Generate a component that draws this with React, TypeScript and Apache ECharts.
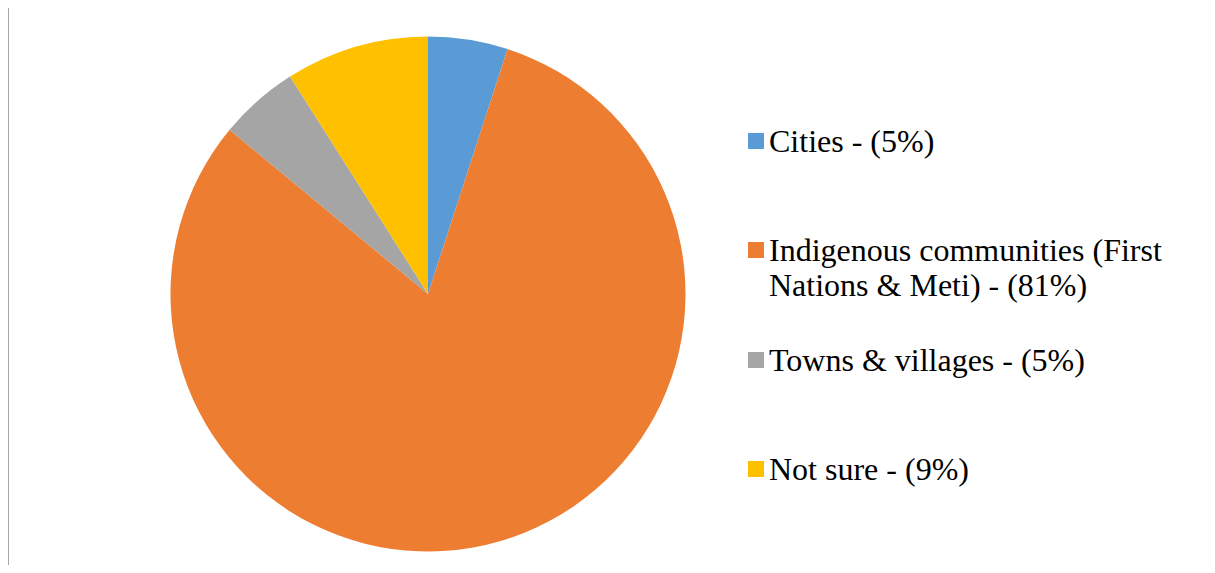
import React, { useEffect, useRef } from "react";
import * as echarts from "echarts";

const categories = [
  "Cities - (5%)",
  "Indigenous communities (First\nNations & Meti) - (81%)",
  "Towns & villages - (5%)",
  "Not sure - (9%)",
];
const values = [5, 81, 5, 9];
const colors = ["#5B9BD5", "#ED7D31", "#A5A5A5", "#FFC000"];
const legendCenters = [141, 250, 360, 469];
const FONT = "'Liberation Serif', serif";
const OX = 9;
const OY = 8;

export default function App() {
  const ref = useRef<HTMLDivElement>(null);
  useEffect(() => {
    if (!ref.current) return;
    const chart = echarts.init(ref.current, null, { renderer: "svg" });
    const legendGraphics: any[] = [];
    categories.forEach((name, i) => {
      legendGraphics.push({
        type: "rect",
        shape: { x: 748 - OX, y: legendCenters[i] - 8 - OY, width: 16, height: 16 },
        style: { fill: colors[i] },
      });
      legendGraphics.push({
        type: "text",
        x: 769 - OX,
        y: legendCenters[i] - 17.5 - OY,
        style: {
          text: name,
          fontFamily: FONT,
          fontSize: 32,
          lineHeight: 35,
          verticalAlign: "top",
        },
      });
    });
    chart.setOption({
      animation: false,
      color: colors,
      graphic: legendGraphics,
      series: [
        {
          type: "pie",
          center: [428 - OX, 294 - OY],
          radius: 257.5,
          startAngle: 90,
          clockwise: true,
          silent: true,
          label: { show: false },
          labelLine: { show: false },
          data: categories.map((name, i) => ({ name, value: values[i] })),
        },
      ],
    });
    return () => chart.dispose();
  }, []);
  return (
    <div
      style={{
        marginLeft: -1,
        marginTop: -1,
        width: 1206,
        borderTop: "1px solid #a6a6a6",
        borderLeft: "2px solid #a6a6a6",
      }}
    >
      <div ref={ref} style={{ width: 1206, height: 557 }} />
    </div>
  );
}
